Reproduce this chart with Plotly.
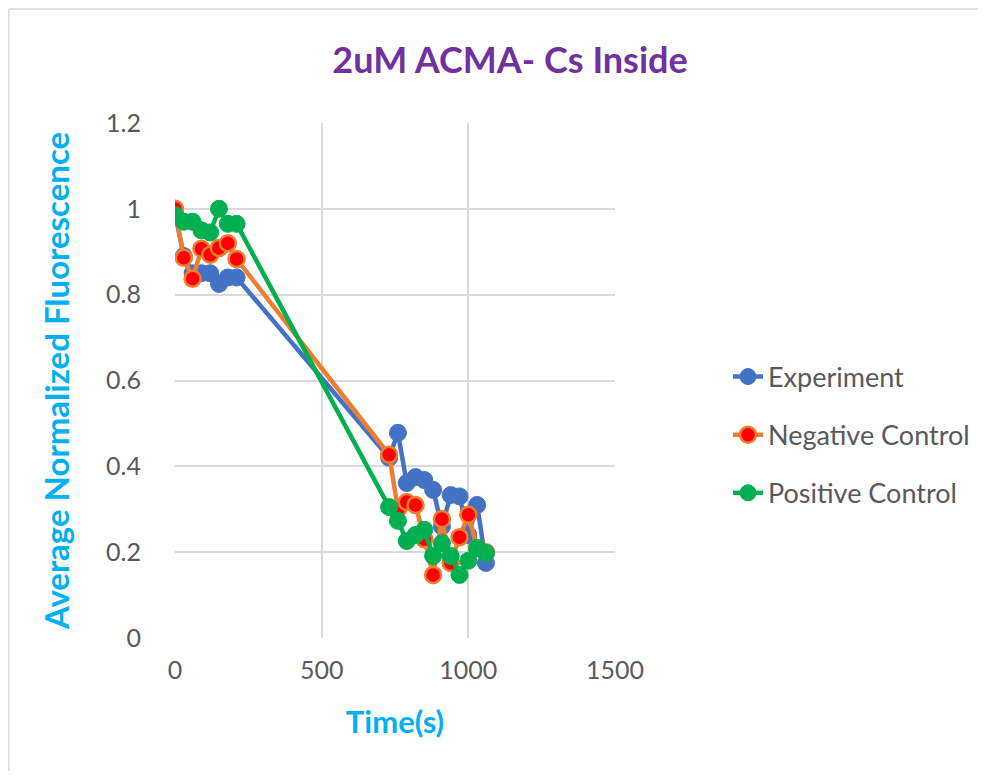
import plotly.graph_objects as go

time_s = [0, 30, 60, 90, 120, 150, 180, 210,
          730, 760, 790, 820, 850, 880, 910, 940, 970, 1000, 1030, 1060]

experiment = [0.99, 0.89, 0.85, 0.85, 0.85, 0.825, 0.84, 0.84,
              0.42, 0.478, 0.361, 0.375, 0.368, 0.345, 0.26, 0.333, 0.33, 0.24, 0.31, 0.175]
negative = [1.0, 0.886, 0.837, 0.907, 0.893, 0.909, 0.92, 0.883,
            0.427, 0.30, 0.317, 0.31, 0.23, 0.147, 0.277, 0.175, 0.235, 0.287, 0.21, 0.2]
positive = [0.985, 0.97, 0.97, 0.95, 0.945, 1.0, 0.965, 0.965,
            0.305, 0.273, 0.226, 0.24, 0.252, 0.191, 0.221, 0.191, 0.147, 0.18, 0.21, 0.198]

x_ticks = [0, 500, 1000, 1500]
y_ticks = [0, 0.2, 0.4, 0.6, 0.8, 1.0, 1.2]
y_tick_labels = ["0", "0.2", "0.4", "0.6", "0.8", "1", "1.2"]

fig = go.Figure()
fig.add_trace(go.Scatter(
    x=time_s, y=experiment, name="Experiment", mode="lines+markers",
    line=dict(color="#4472C4", width=4.5),
    marker=dict(color="#4472C4", size=17, line=dict(color="#4472C4", width=1)),
    legendgroup="a"))
fig.add_trace(go.Scatter(
    x=time_s, y=negative, name="Negative Control", mode="lines+markers",
    line=dict(color="#ED7D31", width=4.5),
    marker=dict(color="#FF0000", size=16, line=dict(color="#ED7D31", width=2.5)),
    legendgroup="b"))
fig.add_trace(go.Scatter(
    x=time_s, y=positive, name="Positive Control", mode="lines+markers",
    line=dict(color="#00B050", width=4.5),
    marker=dict(color="#00B050", size=17, line=dict(color="#00B050", width=1)),
    legendgroup="c"))

font_family = "Lato, 'Open Sans', sans-serif"

W, H = 978, 763
L, T = 167, 115
PW, PH = 441, 515

fig.update_layout(
    width=W, height=H,
    margin=dict(l=L, r=W - L - PW, t=T, b=H - T - PH),
    paper_bgcolor="white", plot_bgcolor="white",
    font=dict(family=font_family, color="#595959"),
    title=dict(text="<b>2uM ACMA- Cs Inside</b>", x=((333 + 687) / 2 - 8) / W,
               xanchor="center", xref="container",
               y=1 - 52 / H, yanchor="middle",
               font=dict(size=36, color="#7030A0", family=font_family)),
    xaxis=dict(range=[0, 1500], tickvals=x_ticks, showgrid=True,
               gridcolor="#D9D9D9", gridwidth=1.5, zeroline=False,
               showline=False, tickfont=dict(size=25, color="#595959"),
               ticks="outside", ticklen=10, tickcolor="rgba(0,0,0,0)",
               title=dict(text="<b>Time(s)</b>", standoff=28,
                          font=dict(size=31, color="#00B0F0"))),
    yaxis=dict(range=[0, 1.2], tickvals=y_ticks, ticktext=y_tick_labels,
               showgrid=True, gridcolor="#D9D9D9", gridwidth=1.5,
               zeroline=False, showline=False,
               ticks="outside", ticklen=28, tickcolor="rgba(0,0,0,0)",
               tickfont=dict(size=25, color="#595959"),
               title=dict(text="<b>Average Normalized Fluorescence</b>", standoff=26,
                          font=dict(size=33, color="#00B0F0"))),
    legend=dict(x=(720 - L) / PW, xanchor="left", y=(T + PH - 427) / PH, yanchor="middle",
                traceorder="grouped", tracegroupgap=20,
                font=dict(size=27, color="#595959"), bgcolor="rgba(0,0,0,0)"),
    shapes=[
        dict(type="line", xref="paper", yref="paper",
             x0=(0.5 - L) / PW, x1=(W + 10 - L) / PW,
             y0=(T + PH - 1) / PH, y1=(T + PH - 1) / PH,
             line=dict(color="#D9D9D9", width=1.5)),
        dict(type="line", xref="paper", yref="paper",
             x0=(0.5 - L) / PW, x1=(0.5 - L) / PW,
             y0=(T + PH - 1) / PH, y1=(T + PH - H - 10) / PH,
             line=dict(color="#D9D9D9", width=1.5)),
    ],
)

fig.write_html("out.html")
